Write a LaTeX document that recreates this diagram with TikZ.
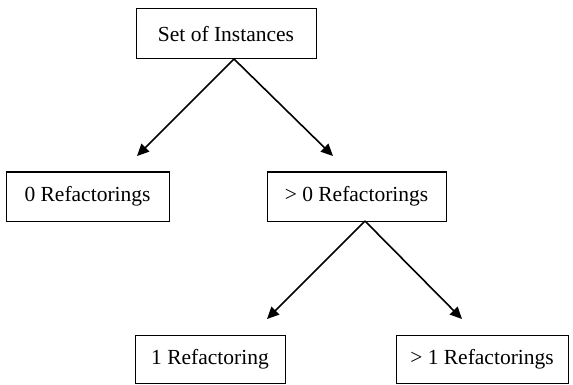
\documentclass[tikz,border=0pt]{standalone}
\usepackage{fontspec}
\setmainfont{Liberation Serif}
\usetikzlibrary{arrows.meta}
\begin{document}
\begin{tikzpicture}[x=1pt,y=-1pt,
  box/.style={draw, line width=1pt, inner sep=0pt, font=\fontsize{21.5}{24}\selectfont},
  arr/.style={line width=1.6pt, -{Triangle[length=12pt,width=11pt]}}]
\useasboundingbox (0,0) rectangle (573,385);
\node[box, minimum width=180pt, minimum height=50pt] (set) at (226,34) {Set of Instances};
\node[box, minimum width=163pt, minimum height=49pt] (zero) at (87.5,196.5) {0 Refactorings};
\node[box, minimum width=179pt, minimum height=49pt] (gt0) at (356.5,196.5) {> 0 Refactorings};
\node[box, minimum width=150pt, minimum height=48pt] (one) at (210,359) {1 Refactoring};
\node[box, minimum width=172pt, minimum height=48pt] (gt1) at (482,359) {> 1 Refactorings};
\coordinate (a1) at (234,59);
\coordinate (a2) at (365,221);
\coordinate (t1) at (137,156);
\coordinate (t2) at (333,156);
\coordinate (t3) at (267,319);
\coordinate (t4) at (462,319);
\draw[arr] (a1) -- (t1);
\draw[arr] (a1) -- (t2);
\draw[arr] (a2) -- (t3);
\draw[arr] (a2) -- (t4);
\end{tikzpicture}
\end{document}
